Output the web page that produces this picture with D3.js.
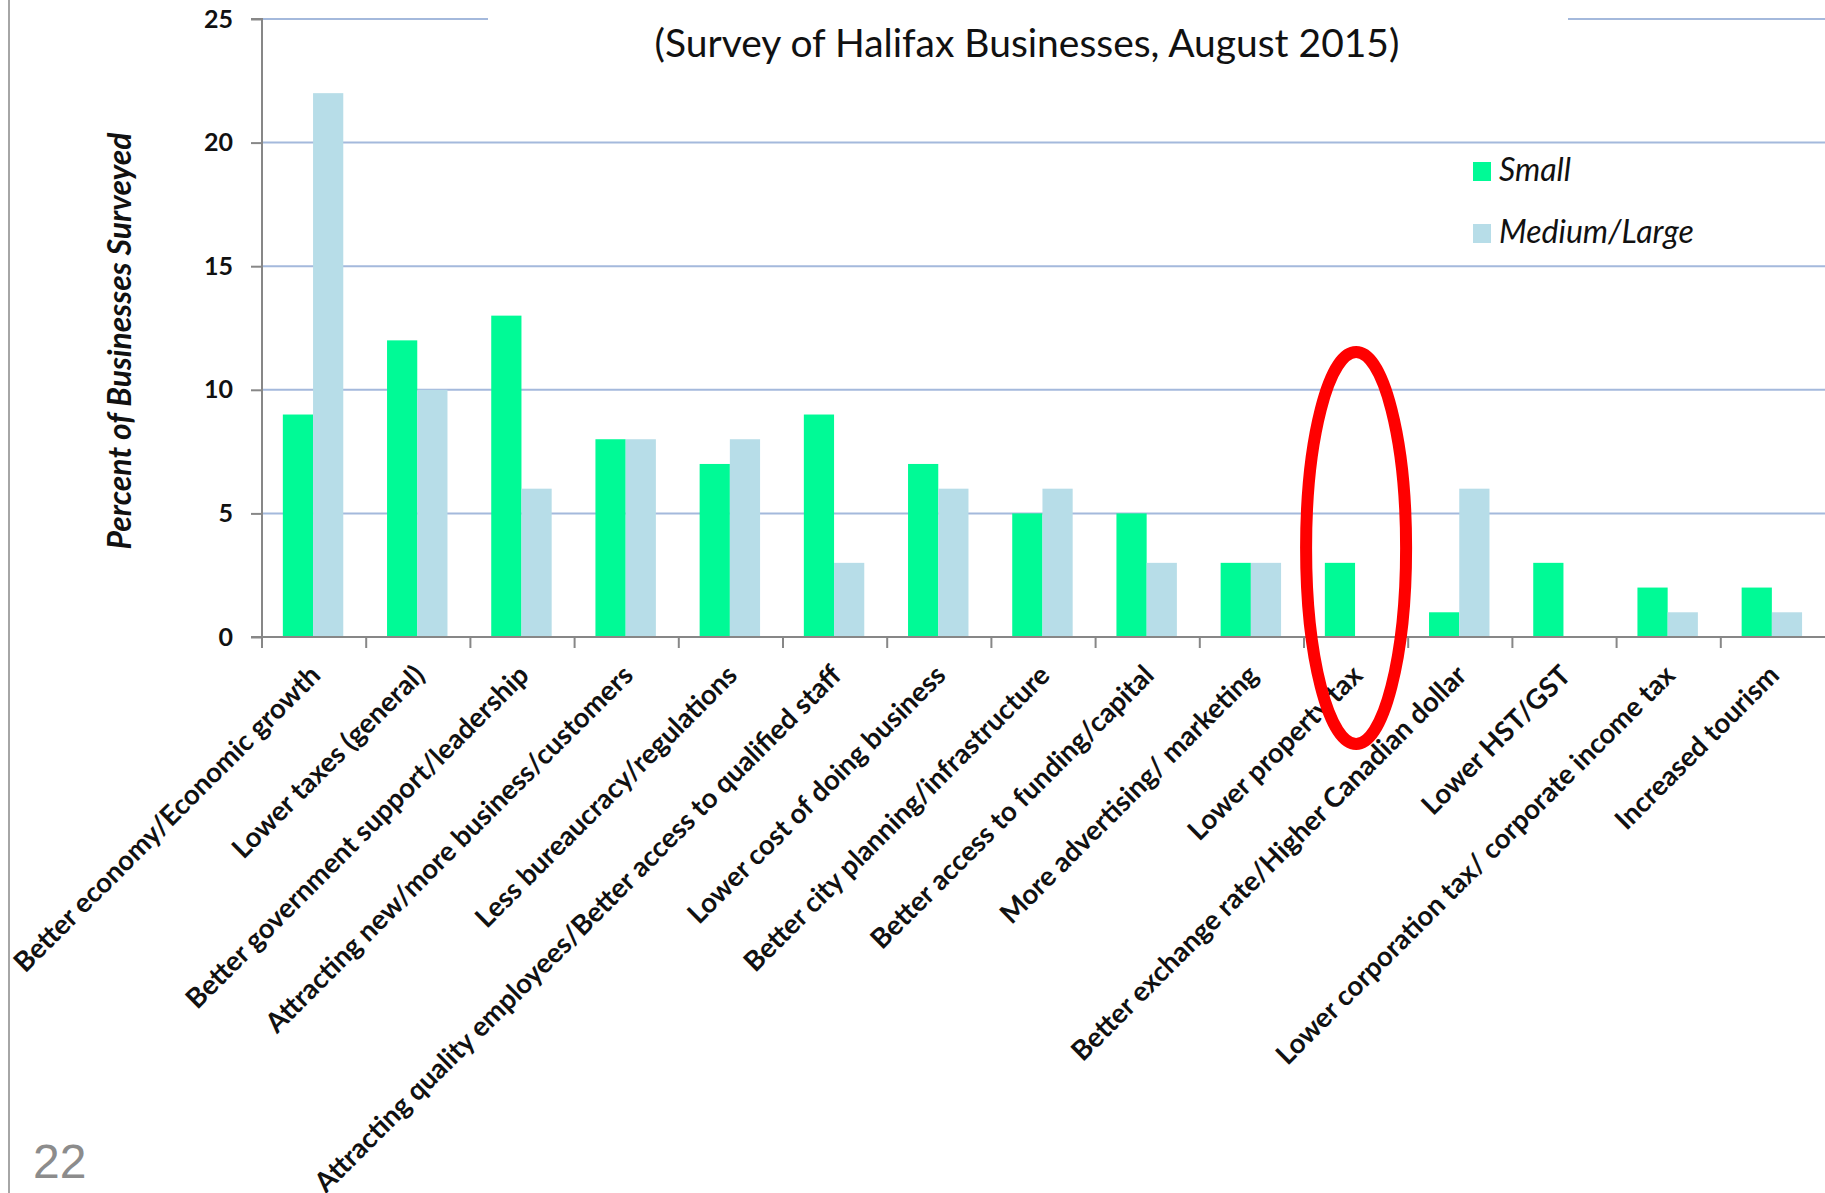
<!DOCTYPE html>
<html>
<head>
<meta charset="utf-8">
<script src="https://cdn.jsdelivr.net/npm/d3@7"></script>
<style>
  html, body { margin: 0; padding: 0; background: #fff; }
  svg { display: block; }
</style>
</head>
<body>
<svg id="chart" width="1825" height="1193"></svg>
<script>
const categories = [
  "Better economy/Economic growth",
  "Lower taxes (general)",
  "Better government support/leadership",
  "Attracting new/more business/customers",
  "Less bureaucracy/regulations",
  "Attracting quality employees/Better access to qualified staff",
  "Lower cost of doing business",
  "Better city planning/infrastructure",
  "Better access to funding/capital",
  "More advertising/ marketing",
  "Lower property tax",
  "Better exchange rate/Higher Canadian dollar",
  "Lower HST/GST",
  "Lower corporation tax/ corporate income tax",
  "Increased tourism"
];
const seriesNames = ["Small", "Medium/Large"];
const smallValues  = [9, 12, 13, 8, 7, 9, 7, 5, 5, 3, 3, 1, 3, 2, 2];
const mediumValues = [22, 10, 6, 8, 8, 3, 6, 6, 3, 3, 0, 6, 0, 1, 1];
const yTicks = [0, 5, 10, 15, 20, 25];
const titleText = "(Survey of Halifax Businesses, August 2015)";
const yAxisTitle = "Percent of Businesses Surveyed";
const pageNumber = "22";
const highlighted = "Lower property tax";

const colors = ["#00fa96", "#b7dde8"];
const FONT = "Lato, 'Open Sans', sans-serif";

const svg = d3.select("#chart");
svg.append("rect").attr("width", 1825).attr("height", 1193).attr("fill", "#fff");

const plotLeft = 262, plotRight = 1825, plotTop = 19, plotBottom = 637;
const x = d3.scaleBand().domain(categories).range([plotLeft, plotRight]).paddingInner(0).paddingOuter(0);
const y = d3.scaleLinear().domain([0, 25]).range([plotBottom, plotTop]);
const bw = x.bandwidth();
const xs = d3.scaleBand().domain(seriesNames).range([bw * 0.2, bw * 0.78]);

function fit(sel, target) {
  const n = sel.node();
  const fs = parseFloat(sel.attr("font-size"));
  const len = n.getComputedTextLength();
  sel.attr("font-size", fs * target / len);
  return fs * target / len;
}

// left slide border
svg.append("line").attr("x1", 9).attr("x2", 9).attr("y1", 0).attr("y2", 1193)
  .attr("stroke", "#a6a6a6").attr("stroke-width", 2);

// gridlines
svg.append("g").selectAll("line").data(yTicks.filter(d => d > 0)).join("line")
  .attr("x1", plotLeft).attr("x2", plotRight)
  .attr("y1", d => y(d)).attr("y2", d => y(d))
  .attr("stroke", "#a4b9dc").attr("stroke-width", 2);

// title box (covers top gridline)
svg.append("rect").attr("x", 488).attr("y", 0).attr("width", 1568 - 488).attr("height", 75).attr("fill", "#fff");
const title = svg.append("text").attr("x", 1027).attr("y", 57).attr("text-anchor", "middle")
  .attr("font-family", FONT).attr("font-size", 36).attr("fill", "#111").text(titleText);
fit(title, 745);

// bars
const rows = categories.map((c, i) => ({ c, vals: [smallValues[i], mediumValues[i]] }));
const groups = svg.append("g").selectAll("g").data(rows).join("g")
  .attr("transform", d => `translate(${x(d.c)},0)`);
groups.selectAll("rect").data(d => d.vals.map((v, k) => ({ v, k }))).join("rect")
  .attr("x", d => xs(seriesNames[d.k]))
  .attr("width", xs.bandwidth())
  .attr("y", d => y(d.v))
  .attr("height", d => y(0) - y(d.v))
  .attr("fill", d => colors[d.k]);

// y axis
const yAxis = svg.append("g").attr("transform", `translate(${plotLeft},0)`)
  .call(d3.axisLeft(y).tickValues(yTicks).tickSize(11).tickPadding(18));
yAxis.select(".domain").attr("stroke", "#878787").attr("stroke-width", 2).attr("d", `M-11,${y(25)}H0V${plotBottom + 10}`);
yAxis.selectAll(".tick line").attr("stroke", "#878787").attr("stroke-width", 2);
yAxis.selectAll(".tick text").attr("font-family", FONT).attr("font-weight", "bold")
  .attr("font-size", 25).attr("fill", "#111");

// x axis
const xAxis = svg.append("g").attr("transform", `translate(0,${plotBottom})`)
  .call(d3.axisBottom(x).tickSize(0).tickFormat(""));
xAxis.select(".domain").attr("stroke", "#878787").attr("stroke-width", 2).attr("d", `M${plotLeft - 11},0H${plotRight}`);
xAxis.selectAll(".tick line").remove();
svg.append("g").selectAll("line").data(categories).join("line")
  .attr("x1", d => x(d)).attr("x2", d => x(d))
  .attr("y1", plotBottom).attr("y2", plotBottom + 11)
  .attr("stroke", "#878787").attr("stroke-width", 2);

// category labels
const labels = svg.append("g").selectAll("text").data(categories).join("text")
  .attr("text-anchor", "end")
  .attr("font-family", FONT).attr("font-weight", "bold").attr("font-size", 26).attr("fill", "#111")
  .attr("transform", d => `translate(${x(d) + bw / 2 + 8},${plotBottom + 40}) rotate(-45)`)
  .text(d => d);
const l0 = labels.filter((d, i) => i === 0);
const lfs = fit(l0, 420);
labels.attr("font-size", lfs);

// y axis title
const yt = svg.append("text").attr("transform", "translate(131,341) rotate(-90)")
  .attr("text-anchor", "middle").attr("font-family", FONT).attr("font-weight", "bold")
  .attr("font-style", "italic").attr("font-size", 26).attr("fill", "#111").text(yAxisTitle);
fit(yt, 417);

// legend
const legend = svg.append("g").attr("transform", "translate(1473,162)");
const li = legend.selectAll("g").data(seriesNames).join("g").attr("transform", (d, i) => `translate(0,${i * 62})`);
li.append("rect").attr("width", 18).attr("height", 19).attr("fill", (d, i) => colors[i]);
const ltexts = li.append("text").attr("x", 26).attr("y", 19)
  .attr("font-family", FONT).attr("font-style", "italic").attr("font-size", 28).attr("fill", "#111").text(d => d);
const lfs2 = fit(ltexts.filter((d, i) => i === 1), 195);
ltexts.attr("font-size", lfs2);

// highlight ellipse
svg.append("ellipse")
  .attr("cx", x(highlighted) + bw / 2)
  .attr("cy", 548).attr("rx", 50).attr("ry", 196)
  .attr("fill", "none").attr("stroke", "#ff0000").attr("stroke-width", 12);

// page number
svg.append("text").attr("x", 33).attr("y", 1178)
  .attr("font-family", "'Liberation Sans', Arial, sans-serif").attr("font-size", 48)
  .attr("fill", "#8c8c8c").text(pageNumber);
</script>
</body>
</html>
